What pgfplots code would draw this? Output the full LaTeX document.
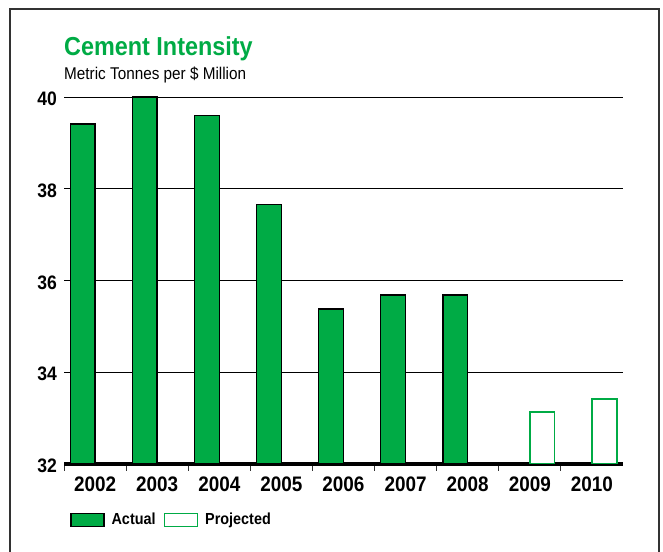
\documentclass[border=0pt]{standalone}
\usepackage{pgfplots}
\pgfplotsset{compat=1.18}
\usepackage{fontspec}
\setmainfont{Liberation Sans}[FakeStretch=0.9]
\definecolor{cgreen}{RGB}{0,171,69}
\definecolor{frm}{RGB}{50,50,50}
\begin{document}
\begin{tikzpicture}
\useasboundingbox (0,0) rectangle (663bp,552bp);
\draw[line width=2bp, frm] (10bp,-10bp) -- (10bp,543bp) -- (659bp,543bp) -- (659bp,-10bp);
\node[anchor=base west, inner sep=0pt, text=cgreen, font=\bfseries\fontsize{26bp}{28bp}\selectfont] at (64bp,496bp) {Cement Intensity};
\node[anchor=base west, inner sep=0pt, font=\fontsize{17bp}{19bp}\selectfont] at (64bp,472bp) {Metric Tonnes per \$ Million};
\begin{axis}[
  at={(64bp,88bp)}, anchor=south west, scale only axis,
  width=559bp, height=373.9bp,
  xmin=-0.5, xmax=8.5, ymin=32, ymax=40.15,
  ybar,
  axis x line*=bottom, axis y line*=left,
  x axis line style={line width=3bp, black, -},
  y axis line style={draw=none},
  ytick={32,34,36,38,40},
  ymajorgrids, grid style={black, line width=0.8bp},
  ytick style={draw=none},
  /pgf/number format/assume math mode=true,
  yticklabel style={font=\bfseries\fontsize{19.5bp}{20bp}\selectfont, inner sep=0pt, xshift=-7bp, yshift=-2bp, anchor=east},
  xtick={0,...,8},
  xticklabels={2002,2003,2004,2005,2006,2007,2008,2009,2010},
  xticklabel style={font=\bfseries\fontsize{21bp}{22bp}\selectfont, inner sep=0pt, yshift=-13bp, anchor=north},
  major tick length=0pt,
  minor xtick={-0.5,0.5,...,7.5},
  minor tick length=7bp,
  tick align=outside,
  minor x tick style={draw=black!80, line width=0.8bp},
  major x tick style={draw=none},
  legend columns=-1,
  legend style={at={(axis description cs:0,0)}, anchor=west, xshift=6bp, yshift=-56bp,
    draw=none, fill=none, inner sep=0pt,
    nodes={inner sep=0pt, font=\bfseries\fontsize{16bp}{17bp}\selectfont},
    column sep=7bp, /tikz/every even column/.append style={column sep=8bp}},
]
\addplot[fill=cgreen, draw=black, line width=1.4bp, bar width=0.4, bar shift=-0.2,
  legend image code/.code={\draw[fill=cgreen, draw=black, line width=1.4bp] (0bp,-7bp) rectangle (33bp,6bp);}]
  coordinates {(0,39.41) (1,40.0) (2,39.60) (3,37.66) (4,35.38) (5,35.68) (6,35.68)};
\addlegendentry{Actual}
\addplot[fill=white, draw=cgreen, line width=1.6bp, bar width=0.4, bar shift=0.2,
  legend image code/.code={\draw[fill=white, draw=cgreen, line width=1.6bp] (0bp,-7bp) rectangle (33bp,6bp);}]
  coordinates {(7,33.13) (8,33.42)};
\addlegendentry{Projected}
\end{axis}
\end{tikzpicture}
\end{document}
